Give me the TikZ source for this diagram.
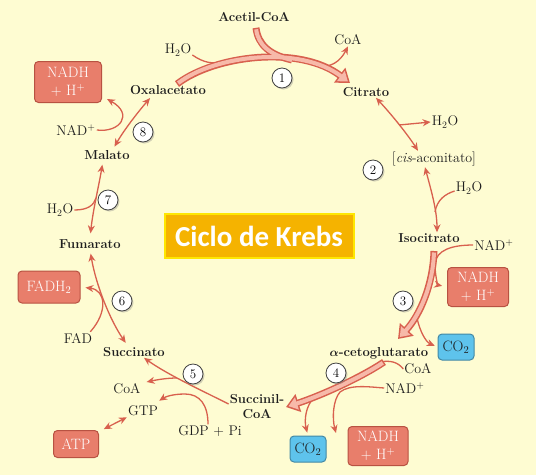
\documentclass[tikz,border=0pt]{standalone}
\usepackage{fontspec}
\usepackage{amsmath}
\usepackage{xcolor}
\usetikzlibrary{arrows.meta,shadows}
\newfontfamily\titlefont{Carlito}

\definecolor{fondo}{HTML}{FEFCD2}
\definecolor{flecha}{HTML}{D8604E}
\definecolor{rosa}{HTML}{F7B9A9}
\definecolor{salmon}{HTML}{E87E6B}
\definecolor{celeste}{HTML}{5EC3EC}
\definecolor{naranja}{HTML}{F5B300}
\definecolor{texto}{HTML}{1E1E1E}

\tikzset{
  met/.style={font=\fontsize{13}{15}\selectfont\bfseries, inner sep=1pt, text=texto},
  sub/.style={font=\fontsize{14}{15}\selectfont, inner sep=1pt, text=texto},
  caja/.style={rounded corners=4pt, draw=flecha!85!black, line width=1pt, fill=salmon,
    text=white, align=center, font=\fontsize{15}{18}\selectfont, inner sep=0pt},
  cajaco/.style={rounded corners=4pt, draw=celeste!70!black, line width=1pt, fill=celeste,
    text=texto, font=\fontsize{15}{15}\selectfont, inner sep=0pt,
    minimum width=36pt, minimum height=26pt},
  paso/.style={circle, draw=black!75, fill=white, line width=0.8pt, minimum size=20pt,
    inner sep=0pt, font=\fontsize{13}{13}\selectfont,
    drop shadow={opacity=0.35, shadow xshift=1.5pt, shadow yshift=-1.5pt}},
  fina/.style={draw=flecha, line width=1.3pt},
  gruesa/.style={draw=flecha, line width=7pt, -{Triangle[length=13pt,width=18pt]}},
  gruesain/.style={draw=rosa, line width=4pt, shorten <=1.5pt, shorten >=2.6pt,
    -{Triangle[length=8.9pt,width=12.3pt]}},
}

\begin{document}
\begin{tikzpicture}[x=1pt,y=-1pt,>={Stealth[length=8pt,width=7pt]}]
    \fill[fondo] (0,0) rectangle (536,475);

    % metabolitos del ciclo
    \node[met] (acetil) at (254,17) {Acetil-CoA};
    \node[met] (citrato) at (366,92) {Citrato};
    \node[sub] (cisacon) at (434,159) {[\textit{cis}-aconitato]};
    \node[met] (isocitrato) at (429,238) {Isocitrato};
    \node[met] (ceto) at (379,353) {{\boldmath$\alpha$}-cetoglutarato};
    \node[met, align=center] (succoa) at (257,407) {Succinil-\\CoA};
    \node[met] (succinato) at (134,352) {Succinato};
    \node[met] (fumarato) at (90,244) {Fumarato};
    \node[met] (malato) at (107,155) {Malato};
    \node[met] (oxal) at (168,90) {Oxalacetato};

    % entradas y salidas
    \node[sub] (h2oA) at (178,50) {H\textsubscript{2}O};
    \node[sub] (coaA) at (348,40) {CoA};
    \node[sub] (h2oB) at (445,122) {H\textsubscript{2}O};
    \node[sub] (h2oC) at (469,188) {H\textsubscript{2}O};
    \node[sub] (nadA) at (494,245) {NAD\textsuperscript{+}};
    \node[sub] (coaB) at (418,369) {CoA};
    \node[sub] (nadB) at (405,388) {NAD\textsuperscript{+}};
    \node[sub] (gdp) at (210,431) {GDP + Pi};
    \node[sub] (gtp) at (143,411) {GTP};
    \node[sub] (coaC) at (127,389) {CoA};
    \node[sub] (fad) at (78,338) {FAD};
    \node[sub] (h2oD) at (60,210) {H\textsubscript{2}O};
    \node[sub] (nadC) at (76,130) {NAD\textsuperscript{+}};

    % cajas
    \node[caja, minimum width=67pt, minimum height=41pt] (nadhA) at (68,82) {NADH\\+ H\textsuperscript{+}};
    \node[caja, minimum width=61pt, minimum height=39pt] (nadhB) at (478,287) {NADH\\+ H\textsuperscript{+}};
    \node[caja, minimum width=60pt, minimum height=39pt] (nadhC) at (378,446) {NADH\\+ H\textsuperscript{+}};
    \node[caja, minimum width=62pt, minimum height=32pt] (fadh) at (49,287) {FADH\textsubscript{2}};
    \node[caja, minimum width=45pt, minimum height=27pt] (atp) at (76,444) {ATP};
    \node[cajaco] (co2A) at (456,347) {CO\textsubscript{2}};
    \node[cajaco] (co2B) at (308,449) {CO\textsubscript{2}};

    \node[draw=yellow!90!orange, line width=2pt, fill=naranja, text=white,
      minimum width=189pt, minimum height=44pt,
      font=\titlefont\fontsize{29}{30}\selectfont\bfseries] (titulo) at (259,236) {Ciclo de Krebs};

    % puntos de las flechas
    \coordinate (b1a) at (177,84);
    \coordinate (b1b) at (350,83);
    \coordinate (b3a) at (434,251);
    \coordinate (b3b) at (398,339);
    \coordinate (b4a) at (384,362);
    \coordinate (b4b) at (286,407);
    \coordinate (ac) at ([xshift=2pt,yshift=-5pt]acetil.south);

    % 1
    \draw[fina] ([yshift=-5pt]h2oA.east) .. controls (204,63) and (212,64) .. (224,62);
    \draw[fina,->] (318,66) .. controls (330,68) and (340,62) .. (coaA.south);
    % 2
    \draw[fina,<->] ([xshift=10pt]citrato.south) .. controls (392,115) and (408,135) .. ([xshift=-16pt]cisacon.north);
    \draw[fina,->] (399,125) -- (h2oB.west);
    \draw[fina,<->] ([xshift=-9pt]cisacon.south) .. controls (431,190) and (437,210) .. ([xshift=8pt]isocitrato.north);
    \draw[fina] ([yshift=-3pt]h2oC.west) .. controls (445,194) and (437,200) .. (435,212);
    % 3
    \draw[fina,->,shorten >=5pt] (nadA.west) .. controls (452,245) and (436,250) .. (435,264)
      .. controls (435,276) and (438,285) .. (nadhB.west);
    \draw[fina,->,shorten >=3pt] (417,318) .. controls (420,332) and (426,342) .. (co2A.west);
    % 4
    \draw[fina] (coaB.west) .. controls (398,362) and (390,360) .. (380,362);
    \draw[fina,->] (nadB.west) .. controls (370,387) and (350,384) .. (340,392)
      .. controls (333,400) and (332,418) .. (336,433);
    \draw[fina,->,shorten >=3pt] (314,398) .. controls (306,405) and (304,420) .. (co2B.north);
    % 5
    \draw[fina,->] ([yshift=3pt]succoa.west) .. controls (205,392) and (168,375) .. ([xshift=10pt]succinato.south);
    \draw[fina,->,shorten >=5pt] (177,378) .. controls (166,378) and (156,380) .. ([yshift=6pt]coaC.east);
    \draw[fina,->] ([xshift=-2pt]gdp.north) .. controls (208,405) and (200,394) .. (185,394)
      .. controls (172,394) and (165,397) .. ([yshift=4pt]gtp.north east);
    \draw[fina,<->,shorten <=2pt] ([xshift=3pt]atp.north east) -- (gtp.south west);
    % 6
    \draw[fina,<->,shorten <=4pt,shorten >=4pt] (fumarato.south) .. controls (96,285) and (110,320) .. ([xshift=-6pt]succinato.north);
    \draw[fina,->,shorten >=5pt] ([xshift=-3pt]fad.north east) .. controls (108,312) and (106,290) .. (fadh.east);
    % 7
    \draw[fina,<->,shorten <=4pt,shorten >=5pt] ([xshift=-4pt]malato.south) .. controls (99,185) and (93,210) .. (fumarato.north);
    \draw[fina] (h2oD.east) .. controls (88,210) and (94,205) .. (96,198);
    % 8
    \draw[fina,<->,shorten <=3pt,shorten >=3pt] ([xshift=6pt]malato.north) .. controls (124,130) and (138,112) .. ([xshift=-16pt]oxal.south);
    \draw[fina,->] (nadC.east) .. controls (120,133) and (134,114) .. ([xshift=5pt,yshift=4pt]nadhA.south east);

    % flechas anchas
    \draw[gruesa] (b1a) .. controls (215,55) and (300,45) .. (b1b);
    \draw[gruesa,-] (ac) .. controls (258,45) and (270,55) .. (292,60);
    \draw[gruesa] (b3a) .. controls (433,285) and (420,315) .. (b3b);
    \draw[gruesa] (b4a) .. controls (360,378) and (320,396) .. (b4b);
    \draw[gruesain] (b1a) .. controls (215,55) and (300,45) .. (b1b);
    \draw[gruesain,-,shorten >=0pt] (ac) .. controls (258,45) and (270,55) .. (292,60);
    \draw[gruesain] (b3a) .. controls (433,285) and (420,315) .. (b3b);
    \draw[gruesain] (b4a) .. controls (360,378) and (320,396) .. (b4b);

    % pasos
    \node[paso] (p1) at (282,78) {1};
    \node[paso] (p2) at (373,170) {2};
    \node[paso] (p3) at (403,301) {3};
    \node[paso] (p4) at (336,373) {4};
    \node[paso] (p5) at (193,374) {5};
    \node[paso] (p6) at (122,301) {6};
    \node[paso] (p7) at (108,200) {7};
    \node[paso] (p8) at (143,132) {8};
\end{tikzpicture}
\end{document}
